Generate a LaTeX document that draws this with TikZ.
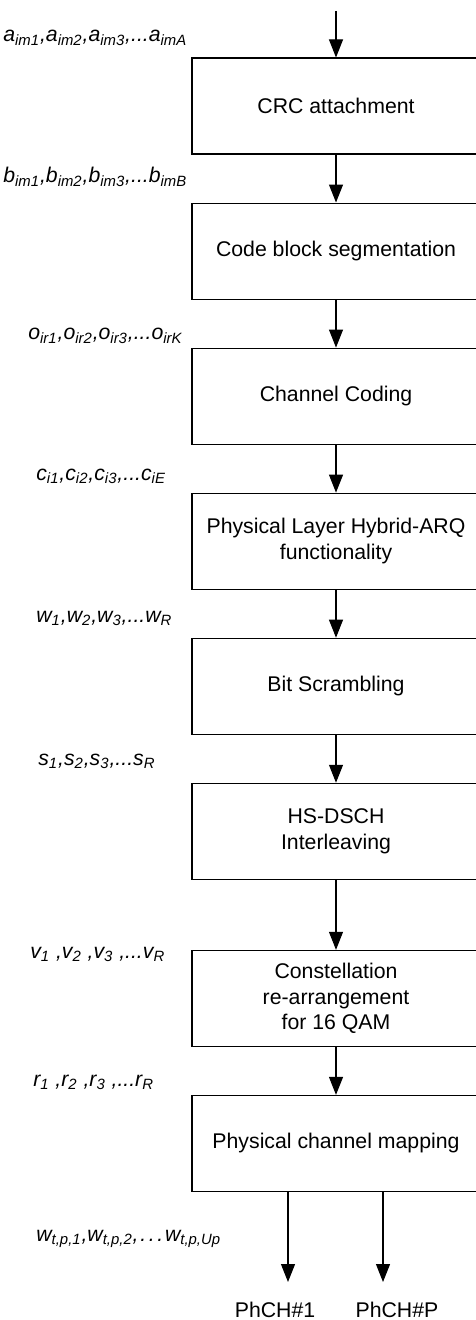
\documentclass[tikz,border=0pt]{standalone}
\usepackage{fontspec}
\setmainfont{Liberation Sans}
\usetikzlibrary{arrows.meta,positioning}
\newcommand{\ix}[1]{\textsubscript{#1}}

\begin{document}
\begin{tikzpicture}[
  x=0.2mm, y=-0.2mm,
  font=\fontsize{12.1}{14.6}\selectfont,
  blk/.style={draw, align=center, minimum width=57.6mm, minimum height=19.2mm, inner sep=2pt, line width=0.6pt},
  lbl/.style={anchor=base west, inner sep=0pt, font=\fontsize{12.1}{14.6}\selectfont\itshape},
  ch/.style={anchor=base, inner sep=0pt},
  ar/.style={-{Triangle[length=3.6mm, width=2.8mm]}, line width=0.6pt}]
\useasboundingbox (0,0) rectangle (475,1320);
\coordinate (in) at (336,11);
\node[blk] (crc) at (336,106) {CRC attachment};
\node[blk, below=9.6mm of crc] (seg) {Code block segmentation};
\node[blk, below=9.6mm of seg] (cod) {Channel Coding};
\node[blk, below=9.6mm of cod] (harq) {Physical Layer Hybrid-ARQ\\functionality};
\node[blk, below=9.6mm of harq] (scr) {Bit Scrambling};
\node[blk, below=9.6mm of scr] (intl) {HS-DSCH\\Interleaving};
\node[blk, below=14mm of intl] (cons) {Constellation\\re-arrangement\\for 16 QAM};
\node[blk, below=9.6mm of cons] (map) {Physical channel mapping};
\draw[ar] (in) -- (crc);
\draw[ar] (crc) -- (seg);
\draw[ar] (seg) -- (cod);
\draw[ar] (cod) -- (harq);
\draw[ar] (harq) -- (scr);
\draw[ar] (scr) -- (intl);
\draw[ar] (intl) -- (cons);
\draw[ar] (cons) -- (map);
% bit sequences between the blocks
\node[lbl] (la) at (3,42) {a\ix{im1},a\ix{im2},a\ix{im3},...a\ix{imA}};
\node[lbl] (lb) at (3,183) {b\ix{im1},b\ix{im2},b\ix{im3},...b\ix{imB}};
\node[lbl] (lo) at (28,340) {o\ix{ir1},o\ix{ir2},o\ix{ir3},...o\ix{irK}};
\node[lbl] (lc) at (36,480) {c\ix{i1},c\ix{i2},c\ix{i3},...c\ix{iE}};
\node[lbl] (lw) at (36,622) {w\ix{1},w\ix{2},w\ix{3},...w\ix{R}};
\node[lbl] (ls) at (38,765) {s\ix{1},s\ix{2},s\ix{3},...s\ix{R}};
\node[lbl] (lv) at (30,958) {v\ix{1} ,v\ix{2} ,v\ix{3} ,...v\ix{R}};
\node[lbl] (lr) at (33,1086) {r\ix{1} ,r\ix{2} ,r\ix{3} ,...r\ix{R}};
\node[lbl] (lt) at (36,1241) {w\ix{t,p,1},w\ix{t,p,2},\kern1pt.\kern1.5pt.\kern1.5pt.\kern1pt w\ix{t,p,Up}};
% physical channels
\coordinate (o1) at (288,1282);
\coordinate (o2) at (383,1282);
\draw[ar] (map.south -| o1) -- (o1);
\draw[ar] (map.south -| o2) -- (o2);
\node[ch] (ph1) at (275,1317) {PhCH\#1};
\node[ch] (ph2) at (397,1317) {PhCH\#P};
\end{tikzpicture}
\end{document}
